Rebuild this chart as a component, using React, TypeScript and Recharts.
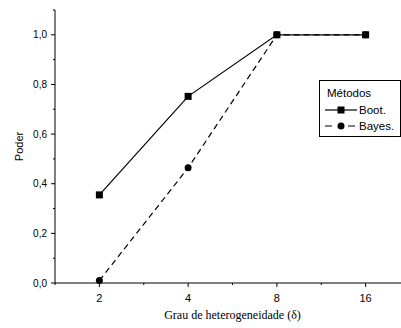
import { Legend, Line, LineChart, XAxis, YAxis } from "recharts"

// grau de heterogeneidade (categorias no eixo x)
const deltas = ["2", "4", "8", "16"]
// poder estimado por método
const bootPower = [0.355, 0.752, 1.0, 1.0]
const bayesPower = [0.01, 0.464, 1.0, 1.0]
const seriesOrder = ["boot", "bayes"]

const xTicks = [-0.5, 0, 0.5, 1, 1.5, 2, 2.5, 3, 3.5]
const yTicks = [0, 0.1, 0.2, 0.3, 0.4, 0.5, 0.6, 0.7, 0.8, 0.9, 1.0, 1.1]
const yLabels = ["0,0", "0,2", "0,4", "0,6", "0,8", "1,0"]

const SANS = "'Liberation Sans', Arial, sans-serif"
const SERIF = "'Liberation Serif', 'Times New Roman', serif"

const data = deltas.map((d, i) => ({
  i,
  delta: d,
  boot: bootPower[i],
  bayes: bayesPower[i],
}))

function XTick({ x, y, payload }: any) {
  const v = payload.value as number
  const major = Number.isInteger(v)
  return (
    <g>
      <line x1={x} x2={x} y1={y} y2={y + (major ? 4 : 2)} stroke="#000" />
      {major && (
        <text x={x} y={y + 18.5} textAnchor="middle" fontSize={11} fontFamily={SANS} fill="#000">
          {deltas[v]}
        </text>
      )}
    </g>
  )
}

function YTick({ x, y, index }: any) {
  const major = index % 2 === 0
  return (
    <g>
      <line x1={x - (major ? 4 : 2)} x2={x} y1={y} y2={y} stroke="#000" />
      {major && (
        <text x={x - 8} y={y} textAnchor="end" dominantBaseline="central" fontSize={10} fontFamily={SANS} fill="#000">
          {yLabels[index / 2]}
        </text>
      )}
    </g>
  )
}

function SquareDot({ cx, cy, index }: any) {
  return <rect key={`s-${index}`} x={cx - 3.5} y={cy - 3.5} width={7} height={7} fill="#000" />
}

function CircleDot({ cx, cy, index }: any) {
  return <circle key={`c-${index}`} cx={cx} cy={cy} r={3.5} fill="#000" />
}

function LegendBox({ payload }: any) {
  const rows = ((payload ?? []) as any[])
    .slice()
    .sort((a, b) => seriesOrder.indexOf(a.dataKey) - seriesOrder.indexOf(b.dataKey))
  return (
    <svg width={82} height={57} style={{ display: "block" }}>
      <rect x={0.5} y={0.5} width={81} height={56} fill="#fff" stroke="#000" />
      <text x={8} y={13} dominantBaseline="central" fontSize={11.5} fontFamily={SANS} fill="#000">
        Métodos
      </text>
      {rows.map((r, k) => {
        const cy = 30 + k * 16
        const dashed = r.dataKey === "bayes"
        return (
          <g key={r.dataKey}>
            <line
              x1={6}
              x2={dashed ? 36 : 38}
              y1={cy}
              y2={cy}
              stroke="#000"
              strokeWidth={1.2}
              strokeDasharray={dashed ? "7 16" : undefined}
            />
            {dashed ? (
              <circle cx={22} cy={cy} r={3.5} fill="#000" />
            ) : (
              <rect x={18.5} y={cy - 3.5} width={7} height={7} fill="#000" />
            )}
            <text x={40} y={cy} dominantBaseline="central" fontSize={11.5} fontFamily={SANS} fill="#000">
              {r.value}
            </text>
          </g>
        )
      })}
    </svg>
  )
}

export default function App() {
  return (
    <div
      style={{
        position: "absolute",
        left: 0,
        top: 0,
        width: 401,
        height: 328,
        overflow: "hidden",
        background: "#fff",
      }}
    >
      <LineChart width={420} height={328} data={data} margin={{ top: 10, right: 10, left: 0, bottom: 0 }}>
        <XAxis
          type="number"
          dataKey="i"
          domain={[-0.5, 3.5]}
          ticks={xTicks}
          interval={0}
          tick={<XTick />}
          tickLine={false}
          tickSize={0}
          tickMargin={0}
          axisLine={{ stroke: "#000" }}
          height={45}
          label={{
            value: "Grau de heterogeneidade (δ)",
            position: "insideBottom",
            offset: 9,
            fontSize: 12,
            fontFamily: SERIF,
            fill: "#000",
          }}
        />
        <YAxis
          type="number"
          domain={[0, 1.1]}
          ticks={yTicks}
          interval={0}
          tick={<YTick />}
          tickLine={false}
          tickSize={0}
          tickMargin={0}
          axisLine={{ stroke: "#000" }}
          width={55}
          label={({ viewBox }: any) => (
            <text
              x={19}
              y={viewBox.y + viewBox.height / 2}
              transform={`rotate(-90 19 ${viewBox.y + viewBox.height / 2})`}
              textAnchor="middle"
              dominantBaseline="central"
              fontSize={11}
              fontFamily={SANS}
              fill="#000"
            >
              Poder
            </text>
          )}
        />
        <Legend
          layout="vertical"
          align="center"
          verticalAlign="middle"
          wrapperStyle={{ left: 319, top: 80, width: 82, height: 57 }}
          content={<LegendBox />}
        />
        {/* Bayes drawn first so the Boot squares sit on top where the curves meet */}
        <Line
          dataKey="bayes"
          name="Bayes."
          stroke="#000"
          strokeWidth={1.2}
          strokeDasharray="6 4"
          dot={CircleDot}
          activeDot={false}
          isAnimationActive={false}
        />
        <Line
          dataKey="boot"
          name="Boot."
          stroke="#000"
          strokeWidth={1.2}
          dot={SquareDot}
          activeDot={false}
          isAnimationActive={false}
        />
      </LineChart>
    </div>
  )
}
